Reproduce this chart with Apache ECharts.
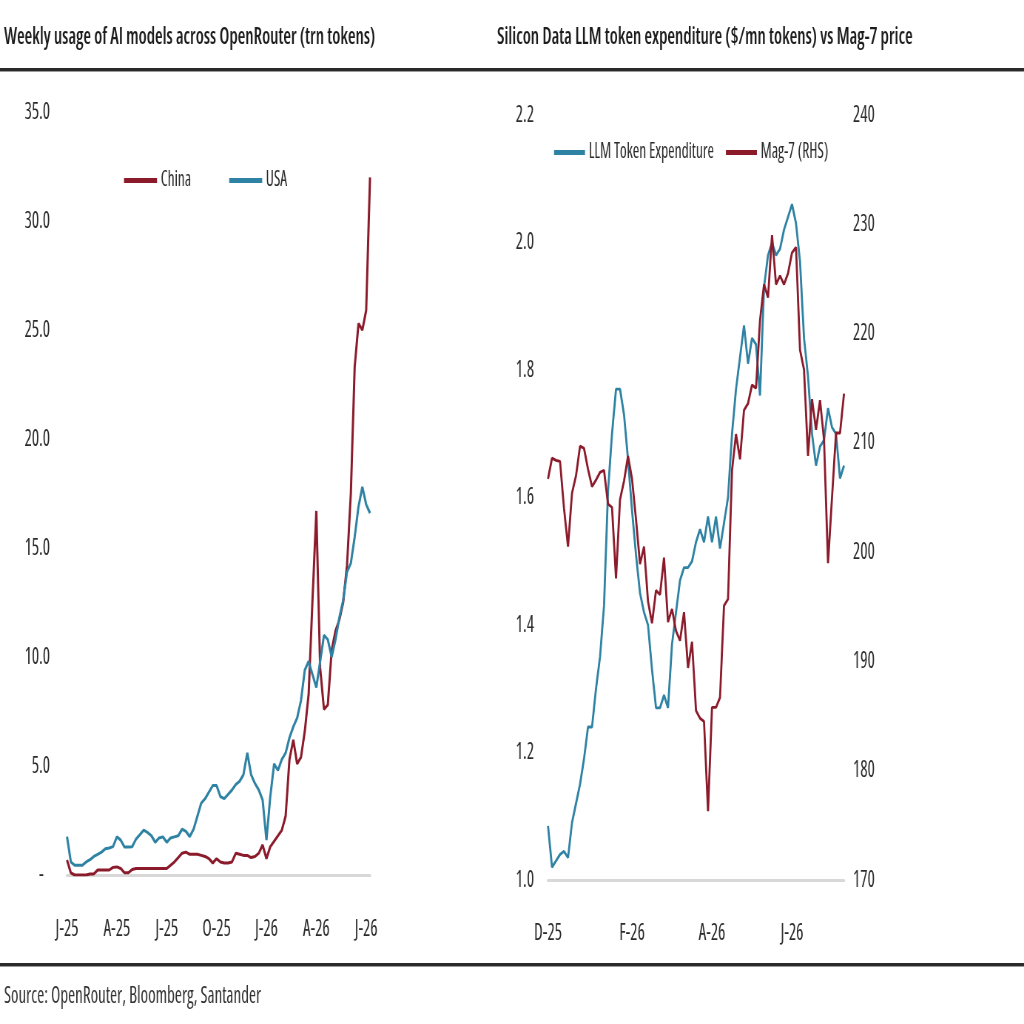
<!DOCTYPE html>
<html>
<head>
<meta charset="utf-8">
<script src="https://cdn.jsdelivr.net/npm/echarts@6/dist/echarts.min.js"></script>
<style>
  html, body { margin: 0; padding: 0; background: #fff; overflow: hidden; }
  /* the source figure is squeezed sideways; draw wide and squeeze the same way */
  #chart { width: 1384px; height: 1024px; transform: scaleX(0.7399); transform-origin: 0 0; }
</style>
</head>
<body>
<div id="chart"></div>
<script>
// left panel: weekly usage (trn tokens), one value per week from 3 Jan 2025
const chinaUsage = [
  0.69, 0.1, 0.0, 0.0, 0.0, 0.0, 0.05, 0.05, 0.23, 0.23,
  0.23, 0.23, 0.35, 0.37, 0.3, 0.1, 0.1, 0.25, 0.3, 0.3,
  0.3, 0.3, 0.3, 0.3, 0.3, 0.3, 0.3, 0.45, 0.6, 0.8,
  1.0, 1.05, 0.95, 0.95, 0.95, 0.9, 0.85, 0.75, 0.55, 0.75,
  0.6, 0.55, 0.55, 0.6, 1.0, 0.95, 0.9, 0.9, 0.8, 0.85,
  1.0, 1.38, 0.75, 1.3, 1.55, 1.8, 2.05, 2.7, 5.3, 6.2,
  5.1, 5.4, 6.6, 8.3, 12.6, 16.7, 9.5, 7.6, 7.8, 10.3,
  11.2, 11.7, 12.5, 14.2, 17.5, 23.3, 25.3, 25.0, 25.9, 32.0
];
const usaUsage = [
  1.76, 0.6, 0.45, 0.45, 0.45, 0.6, 0.7, 0.85, 0.95, 1.05,
  1.2, 1.24, 1.3, 1.75, 1.6, 1.28, 1.28, 1.3, 1.65, 1.85,
  2.06, 1.95, 1.8, 1.5, 1.7, 1.75, 1.5, 1.7, 1.75, 1.8,
  2.1, 2.0, 1.76, 2.1, 2.7, 3.3, 3.5, 3.8, 4.1, 4.1,
  3.6, 3.5, 3.7, 3.9, 4.15, 4.3, 4.6, 5.6, 4.6, 4.2,
  3.9, 3.44, 1.6, 3.6, 5.1, 4.8, 5.3, 5.6, 6.3, 6.8,
  7.2, 8.0, 9.4, 9.8, 9.2, 8.6, 9.8, 11.0, 10.8, 10.0,
  10.8, 11.8, 12.6, 13.9, 14.3, 15.5, 16.9, 17.8, 17.0, 16.6
];
const usageStart = '2025-01-03';
const usageStepDays = 7;
const usageTickMonths = [0, 3, 6, 9];

// right panel: token expenditure ($/mn tokens) and Mag-7 price, every 3 days from 1 Dec 2025
const llmSpend = [
  1.085, 1.02, 1.03, 1.04, 1.045, 1.035, 1.09, 1.12, 1.15, 1.19,
  1.24, 1.24, 1.30, 1.35, 1.43, 1.61, 1.70, 1.77, 1.77, 1.73,
  1.66, 1.58, 1.51, 1.45, 1.42, 1.40, 1.33, 1.27, 1.27, 1.29,
  1.27, 1.37, 1.42, 1.47, 1.49, 1.49, 1.50, 1.53, 1.55, 1.53,
  1.57, 1.53, 1.57, 1.52, 1.56, 1.60, 1.70, 1.77, 1.82, 1.87,
  1.81, 1.85, 1.84, 1.76, 1.93, 1.98, 2.00, 1.98, 1.99, 2.02,
  2.04, 2.06, 2.03, 1.97, 1.85, 1.79, 1.70, 1.65, 1.68, 1.69,
  1.74, 1.71, 1.70, 1.63, 1.65
];
const mag7Price = [
  206.7, 208.6, 208.4, 208.3, 204.0, 200.5, 205.4, 207.0, 209.7, 209.5,
  207.6, 206.0, 206.6, 207.3, 207.5, 204.4, 204.1, 197.6, 204.8, 206.5,
  208.8, 206.7, 203.0, 198.9, 200.5, 195.5, 193.5, 196.5, 196.1, 199.5,
  193.6, 194.8, 192.8, 191.9, 194.5, 189.4, 191.8, 185.5, 184.8, 184.5,
  176.3, 185.8, 185.8, 186.7, 195.1, 195.7, 207.5, 210.8, 208.5, 213.0,
  213.6, 215.3, 215.0, 221.2, 224.5, 223.3, 229.0, 224.5, 225.3, 224.5,
  225.5, 227.4, 227.9, 218.5, 216.7, 208.8, 214.0, 211.2, 213.9, 210.3,
  199.0, 205.0, 210.9, 210.9, 214.5
];
const spendStart = '2025-12-01';
const spendStepDays = 3;
const spendTickMonths = [11, 1, 3, 5];

const monthInitials = 'JFMAMJJASOND';
const FONT = "'Open Sans', sans-serif";
const NARROW = 'condensed'; // ends up in the canvas font string as font-stretch
const RED = '#8b1a2b';
const BLUE = '#2e82a3';
const TEXT = '#2b2b2b';

// horizontal squeeze applied by the css above; x positions below are given in screen px
const SQUEEZE = 0.7399;
const sx = v => v / SQUEEZE;

function makeDates(start, step, n) {
  const t0 = Date.parse(start + 'T00:00:00Z');
  const out = [];
  for (let i = 0; i < n; i++) {
    out.push(new Date(t0 + i * step * 86400000).toISOString().slice(0, 10));
  }
  return out;
}

const usageDates = makeDates(usageStart, usageStepDays, chinaUsage.length);
const spendDates = makeDates(spendStart, spendStepDays, llmSpend.length);

// show a label on the first point that falls in one of the tick months
function tickShower(dates, months) {
  return function (idx) {
    const m = +dates[idx].slice(5, 7) - 1;
    const prev = idx > 0 ? +dates[idx - 1].slice(5, 7) - 1 : -1;
    return m !== prev && months.indexOf(m) >= 0;
  };
}
function shortDate(v) {
  return monthInitials[+v.slice(5, 7) - 1] + '-' + v.slice(2, 4);
}

const axisText = { color: TEXT, fontSize: 23, fontFamily: FONT, fontStyle: NARROW };
const legendText = { color: TEXT, fontSize: 21, fontFamily: FONT, fontStyle: NARROW };
const titleText = { fontSize: 23.6, fontWeight: 600, fontStyle: NARROW, color: '#1c1c1c', fontFamily: FONT };

const chart = echarts.init(document.getElementById('chart'));
chart.setOption({
  animation: false,
  backgroundColor: '#fff',
  textStyle: { fontFamily: FONT },
  title: [
    { text: 'Weekly usage of AI models across OpenRouter (trn tokens)', left: sx(4), top: 25, padding: 0, textStyle: titleText },
    { text: 'Silicon Data LLM token expenditure ($/mn tokens) vs Mag-7 price', left: sx(497), top: 25, padding: 0, textStyle: titleText }
  ],
  legend: [
    {
      data: ['China', 'USA'],
      left: sx(124), top: 170, padding: 0,
      icon: 'rect', itemWidth: sx(33), itemHeight: 5, itemGap: sx(38),
      textStyle: legendText
    },
    {
      data: ['LLM Token Expenditure', 'Mag-7 (RHS)'],
      left: sx(554), top: 142, padding: 0,
      icon: 'rect', itemWidth: sx(31), itemHeight: 5, itemGap: sx(12),
      textStyle: legendText
    }
  ],
  grid: [
    { left: sx(67), top: 112, width: sx(303), height: 763 },
    { left: sx(548), top: 115, width: sx(296), height: 765 }
  ],
  xAxis: [
    {
      type: 'category', gridIndex: 0, data: usageDates, boundaryGap: false,
      axisLine: { lineStyle: { color: '#d8d8d8', width: 3 } },
      axisTick: { show: false },
      axisLabel: { ...axisText, margin: 43, interval: tickShower(usageDates, usageTickMonths), formatter: shortDate },
      splitLine: { show: false }
    },
    {
      type: 'category', gridIndex: 1, data: spendDates, boundaryGap: false,
      axisLine: { lineStyle: { color: '#d8d8d8', width: 3 } },
      axisTick: { show: false },
      axisLabel: { ...axisText, margin: 42, interval: tickShower(spendDates, spendTickMonths), formatter: shortDate },
      splitLine: { show: false }
    }
  ],
  yAxis: [
    {
      type: 'value', gridIndex: 0, min: 0, max: 35, interval: 5,
      axisLine: { show: false }, axisTick: { show: false }, splitLine: { show: false },
      axisLabel: { ...axisText, margin: sx(17), formatter: v => v === 0 ? '-  ' : v.toFixed(1) }
    },
    {
      type: 'value', gridIndex: 1, min: 1.0, max: 2.2, interval: 0.2,
      axisLine: { show: false }, axisTick: { show: false }, splitLine: { show: false },
      axisLabel: { ...axisText, margin: sx(14), formatter: v => v.toFixed(1) }
    },
    {
      type: 'value', gridIndex: 1, position: 'right', min: 170, max: 240, interval: 10,
      axisLine: { show: false }, axisTick: { show: false }, splitLine: { show: false },
      axisLabel: { ...axisText, margin: sx(9) }
    }
  ],
  series: [
    {
      name: 'China', type: 'line', xAxisIndex: 0, yAxisIndex: 0, data: chinaUsage,
      showSymbol: false, lineStyle: { color: RED, width: 3 }, itemStyle: { color: RED }
    },
    {
      name: 'USA', type: 'line', xAxisIndex: 0, yAxisIndex: 0, data: usaUsage,
      showSymbol: false, lineStyle: { color: BLUE, width: 3 }, itemStyle: { color: BLUE }
    },
    {
      name: 'LLM Token Expenditure', type: 'line', xAxisIndex: 1, yAxisIndex: 1, data: llmSpend,
      showSymbol: false, lineStyle: { color: BLUE, width: 2.8 }, itemStyle: { color: BLUE }
    },
    {
      name: 'Mag-7 (RHS)', type: 'line', xAxisIndex: 1, yAxisIndex: 2, data: mag7Price,
      showSymbol: false, lineStyle: { color: RED, width: 2.8 }, itemStyle: { color: RED }
    }
  ],
  graphic: [
    { type: 'rect', shape: { x: 0, y: 68, width: sx(1024), height: 3 }, style: { fill: '#2a2a2a' } },
    { type: 'rect', shape: { x: 0, y: 71, width: sx(1024), height: 1 }, style: { fill: '#9a9a9a' } },
    { type: 'rect', shape: { x: 0, y: 963, width: sx(1024), height: 3 }, style: { fill: '#2a2a2a' } },
    { type: 'rect', shape: { x: 0, y: 966, width: sx(1024), height: 1 }, style: { fill: '#9a9a9a' } },
    {
      type: 'text', left: sx(4), top: 985,
      style: { text: 'Source: OpenRouter, Bloomberg, Santander', fill: '#333', fontSize: 23, fontStyle: NARROW, fontFamily: FONT }
    }
  ]
});
</script>
</body>
</html>
